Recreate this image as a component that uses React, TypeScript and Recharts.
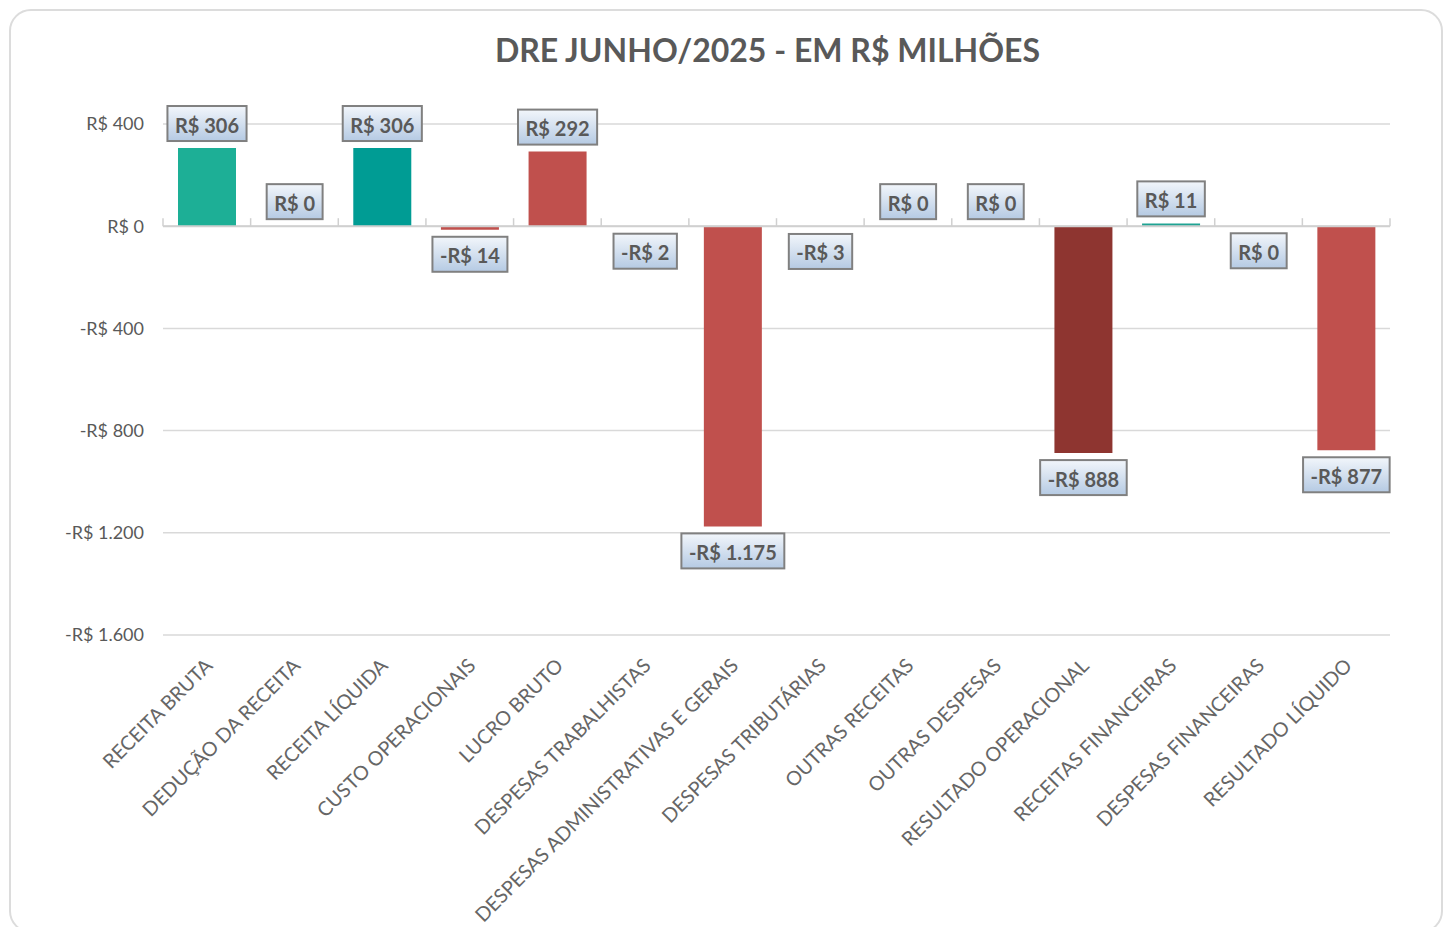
import React from "react";
import {
  BarChart,
  Bar,
  XAxis,
  YAxis,
  CartesianGrid,
  Cell,
  LabelList,
  ReferenceLine,
} from "recharts";

const categorias = [
  "RECEITA BRUTA",
  "DEDUÇÃO DA RECEITA",
  "RECEITA LÍQUIDA",
  "CUSTO OPERACIONAIS",
  "LUCRO BRUTO",
  "DESPESAS TRABALHISTAS",
  "DESPESAS ADMINISTRATIVAS E GERAIS",
  "DESPESAS TRIBUTÁRIAS",
  "OUTRAS RECEITAS",
  "OUTRAS DESPESAS",
  "RESULTADO OPERACIONAL",
  "RECEITAS FINANCEIRAS",
  "DESPESAS FINANCEIRAS",
  "RESULTADO LÍQUIDO",
];

// valores em R$ milhões (os "R$ 0" são valores pequenos arredondados)
const valores = [306, 0.2, 306, -14, 292, -2, -1175, -3, 0.2, 0.2, -888, 11, -0.3, -877];

const cores = [
  "#1DAF96",
  "#1DAF96",
  "#009C94",
  "#C0504D",
  "#C0504D",
  "#C0504D",
  "#C0504D",
  "#C0504D",
  "#1DAF96",
  "#C0504D",
  "#8E3530",
  "#1FA393",
  "#C0504D",
  "#C0504D",
];

const ticksY = [-1600, -1200, -800, -400, 0, 400];

const FONTE = "Lato, 'Open Sans', sans-serif";
const CINZA = "#595959";

const dados = categorias.map((categoria, i) => ({ categoria, valor: valores[i] }));

const milhar = (n: number) => String(n).replace(/\B(?=(\d{3})+(?!\d))/g, ".");

const formatReal = (v: number) => {
  const r = Math.round(v);
  if (r === 0) return "R$ 0";
  return (r < 0 ? "-R$ " : "R$ ") + milhar(Math.abs(r));
};

let ctx: CanvasRenderingContext2D | null = null;
const medirTexto = (texto: string, fonte: string) => {
  if (!ctx) ctx = document.createElement("canvas").getContext("2d");
  if (!ctx) return texto.length * 11;
  ctx.font = fonte;
  return ctx.measureText(texto).width;
};

const RotuloValor = (props: any) => {
  const vb = props.viewBox && props.viewBox.width !== undefined ? props.viewBox : props;
  const { x, y, width, height } = vb;
  const value = props.value as number;
  const texto = formatReal(value);
  const w = medirTexto(texto, `bold 20px ${FONTE}`) + 15;
  const h = 35;
  const topo = Math.min(y, y + height);
  const base = Math.max(y, y + height);
  const cx = x + width / 2;
  const by = value >= 0 ? topo - 7 - h : base + 7;
  return (
    <g>
      <rect
        x={cx - w / 2}
        y={by}
        width={w}
        height={h}
        fill="url(#gradRotulo)"
        stroke="#808080"
        strokeWidth={2}
      />
      <text
        x={cx}
        y={by + h / 2 + 1}
        textAnchor="middle"
        dominantBaseline="central"
        fill={CINZA}
        fontSize={20}
        fontWeight="bold"
        fontFamily={FONTE}
      >
        {texto}
      </text>
    </g>
  );
};

const RotuloCategoria = (props: any) => {
  const { x, y, payload } = props;
  const px = x + 7;
  const py = y + 32;
  return (
    <text
      x={px}
      y={py}
      transform={`rotate(-45 ${px} ${py})`}
      textAnchor="end"
      fill="#666666"
      fontSize={19.8}
      fontFamily={FONTE}
    >
      {payload.value}
    </text>
  );
};

// linha do zero com marcas entre as categorias
const LinhaZero = (props: any) => {
  const { x1, x2, y1 } = props;
  const passo = (x2 - x1) / categorias.length;
  return (
    <g>
      <line x1={x1} x2={x2} y1={y1} y2={y1} stroke="#D0D0D0" strokeWidth={2} />
      {categorias.concat([""]).map((_, i) => (
        <line
          key={i}
          x1={x1 + i * passo}
          x2={x1 + i * passo}
          y1={y1}
          y2={y1 - 8}
          stroke="#D0D0D0"
          strokeWidth={1.5}
        />
      ))}
    </g>
  );
};

export default function App() {
  return (
    <div
      style={{
        position: "absolute",
        left: 0,
        top: 0,
        width: 1445,
        height: 927,
        background: "#fff",
        overflow: "hidden",
      }}
    >
      <div
        style={{
          position: "absolute",
          left: 9,
          top: 9,
          width: 1430,
          height: 920,
          border: "2px solid #DCDCDC",
          borderRadius: 22,
        }}
      />
      <div
        style={{
          position: "absolute",
          left: 0,
          top: 30,
          width: 1535,
          textAlign: "center",
          fontFamily: FONTE,
          fontWeight: "bold",
          fontSize: 32,
          color: CINZA,
        }}
      >
        DRE JUNHO/2025 - EM R$ MILHÕES
      </div>
      <div style={{ position: "absolute", left: 0, top: 0 }}>
        <BarChart
          width={1445}
          height={927}
          data={dados}
          margin={{ top: 124, right: 55, left: 83, bottom: 42 }}
          barSize={58}
        >
          <defs>
            <linearGradient id="gradRotulo" x1="0" y1="0" x2="0" y2="1">
              <stop offset="0%" stopColor="#F2F6FB" />
              <stop offset="100%" stopColor="#B5CAE3" />
            </linearGradient>
          </defs>
          <CartesianGrid vertical={false} stroke="#D9D9D9" strokeWidth={1.5} />
          <XAxis
            dataKey="categoria"
            interval={0}
            axisLine={false}
            tickLine={false}
            tickSize={0}
            tickMargin={0}
            height={250}
            tick={<RotuloCategoria />}
          />
          <YAxis
            type="number"
            domain={[-1600, 400]}
            ticks={ticksY}
            axisLine={false}
            tickLine={false}
            tickSize={0}
            tickMargin={19}
            width={80}
            tickFormatter={formatReal}
            tick={{ fill: CINZA, fontSize: 18, fontFamily: FONTE }}
          />
          <ReferenceLine y={0} shape={<LinhaZero />} />
          <Bar dataKey="valor" isAnimationActive={false}>
            {dados.map((d, i) => (
              <Cell key={d.categoria} fill={cores[i]} />
            ))}
            <LabelList dataKey="valor" content={<RotuloValor />} />
          </Bar>
        </BarChart>
      </div>
    </div>
  );
}
